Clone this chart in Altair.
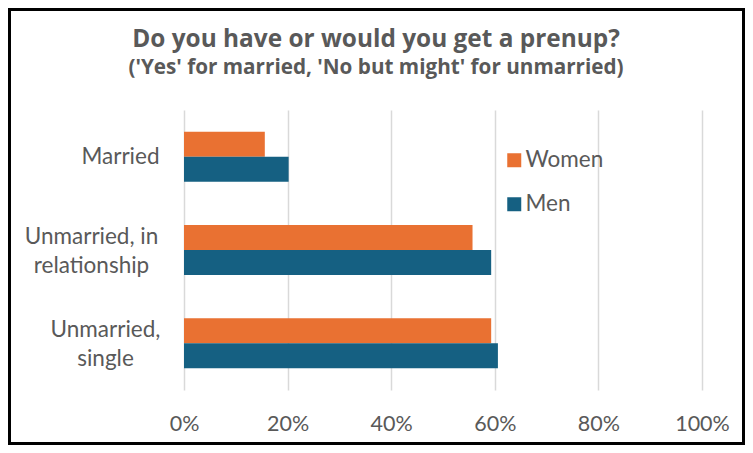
import altair as alt
import pandas as pd

# ---- data ----
categories = ["Married", "Unmarried, in relationship", "Unmarried, single"]
category_lines = [["Married"], ["Unmarried, in", "relationship"], ["Unmarried,", "single"]]
series = ["Women", "Men"]
women = [0.156, 0.557, 0.593]
men = [0.202, 0.593, 0.606]
x_ticks = [0, 0.2, 0.4, 0.6, 0.8, 1.0]
colors = ["#E97132", "#156082"]

title_text = "Do you have or would you get a prenup?"
subtitle_text = "('Yes' for married, 'No but might' for unmarried)"

# ---- layout / style ----
FONT = "Lato"
TFONT = "Open Sans"
TXT = "#595959"
W, H = 518, 280
PAD = {"left": 176, "top": 102, "right": 43, "bottom": 55}
# label block padding (centre of each centred label block, measured from the plot edge)
label_pad = {"Married": 64, "Unmarried, in relationship": 93, "Unmarried, single": 79}

rows = []
for c, w, m in zip(categories, women, men):
    rows.append({"Status": c, "Gender": "Women", "Share": w})
    rows.append({"Status": c, "Gender": "Men", "Share": m})
df = pd.DataFrame(rows)

def js(s):
    return "'" + s.replace("'", "\\'") + "'"

expr = "[" + ", ".join(js(s) for s in category_lines[-1]) + "]"
for c, lines in reversed(list(zip(categories[:-1], category_lines[:-1]))):
    arr = "[" + ", ".join(js(s) for s in lines) + "]"
    expr = f"datum.label == {js(c)} ? {arr} : ({expr})"

bars = alt.Chart(df).mark_bar().encode(
    x=alt.X(
        "Share:Q",
        scale=alt.Scale(domain=[0, 1]),
        axis=alt.Axis(
            values=x_ticks, format=".0%", title=None, domain=False, ticks=False,
            tickSize=0, labelPadding=23, labelFontSize=21.5, labelColor=TXT,
            labelFont=FONT, labelFlush=False, grid=True, gridColor="#D9D9D9",
            gridWidth=1.5,
        ),
    ),
    y=alt.Y(
        "Status:N",
        sort=categories,
        scale=alt.Scale(paddingInner=0.464, paddingOuter=0.232),
        axis=alt.Axis(
            title=None, domain=False, ticks=False, tickSize=0,
            labelAlign="center",
            labelPadding={
                "condition": [
                    {"test": f"datum.label == {js(categories[0])}", "value": label_pad[categories[0]]},
                    {"test": f"datum.label == {js(categories[1])}", "value": label_pad[categories[1]]},
                ],
                "value": label_pad[categories[2]],
            },
            labelExpr=expr, labelFontSize=22.5, labelLineHeight=29,
            labelOffset={"condition": {"test": f"datum.label != {js(categories[0])}", "value": -13}, "value": 0},
            labelColor=TXT, labelFont=FONT, labelLimit=400,
        ),
    ),
    yOffset=alt.YOffset("Gender:N", sort=series),
    color=alt.Color(
        "Gender:N",
        sort=series,
        title=None,
        scale=alt.Scale(domain=series, range=colors),
        legend=alt.Legend(
            orient="none", legendX=319, legendY=39, symbolType="square",
            symbolSize=196, symbolStrokeWidth=0, labelFont=FONT,
            labelFontSize=22.5, labelColor=TXT, labelOffset=0, rowPadding=21,
        ),
    ),
)

border = alt.Chart(alt.Data(values=[{"a": 1}])).mark_rect(
    fill="transparent", stroke="black", strokeWidth=3
).encode(
    x=alt.value(-PAD["left"] + 1.5),
    x2=alt.value(W + PAD["right"] - 1.5),
    y=alt.value(-PAD["top"] + 1.5),
    y2=alt.value(H + PAD["bottom"] - 1.5),
)

chart = alt.layer(bars, border).properties(
    width=W,
    height=H,
    padding=PAD,
    autosize=alt.AutoSizeParams(type="none"),
    title=alt.TitleParams(
        text=title_text, subtitle=subtitle_text, anchor="middle", dx=-67,
        offset=-71, font=TFONT, fontSize=24.4, fontWeight="bold", color=TXT,
        subtitleFont=TFONT, subtitleFontSize=20.7, subtitleFontWeight="bold",
        subtitleColor=TXT, subtitlePadding=6,
    ),
).configure_view(strokeWidth=0)

chart.save("out.html", embed_options={"renderer": "svg", "actions": False})
